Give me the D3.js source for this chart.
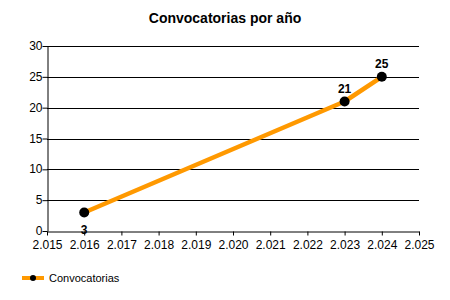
<!DOCTYPE html>
<html>
<head>
<meta charset="utf-8">
<script src="https://cdn.jsdelivr.net/npm/d3@7"></script>
<style>
  body { margin: 0; background: #fff; }
  svg { font-family: "Liberation Sans", Arial, sans-serif; }
</style>
</head>
<body>
<div id="chart"></div>
<script>
// data
var years = [2016, 2023, 2024];
var counts = [3, 21, 25];
var seriesName = "Convocatorias";
var xTicks = [2015, 2016, 2017, 2018, 2019, 2020, 2021, 2022, 2023, 2024, 2025];
var yTicks = [0, 5, 10, 15, 20, 25, 30];

var W = 450, H = 300;
var margin = {top: 46, right: 31, bottom: 69, left: 47},
    width = W - margin.left - margin.right,
    height = H - margin.top - margin.bottom;

var svg = d3.select("#chart").append("svg")
    .attr("width", W)
    .attr("height", H);

// title
svg.append("text")
    .attr("x", 225)
    .attr("y", 23)
    .attr("text-anchor", "middle")
    .style("font-size", "14px")
    .style("font-weight", "bold")
    .text("Convocatorias por año");

var g = svg.append("g")
    .attr("transform", "translate(" + margin.left + "," + margin.top + ")");

var x = d3.scaleLinear().domain([2015, 2025]).range([0, width]);
var y = d3.scaleLinear().domain([0, 30]).range([height, 0]);

// spanish style thousands "2.015"
var fmt = d3.formatLocale({decimal: ",", thousands: ".", grouping: [3], currency: ["", "€"]}).format(",d");

// grid
g.selectAll(".grid")
    .data(yTicks.filter(function(d) { return d > 0; }))
  .enter().append("line")
    .attr("x1", 0)
    .attr("x2", width)
    .attr("y1", function(d) { return Math.round(y(d)) + 0.5; })
    .attr("y2", function(d) { return Math.round(y(d)) + 0.5; })
    .attr("stroke", "#000")
    .attr("stroke-width", 1);

var xAxis = g.append("g")
    .attr("transform", "translate(0," + (height + 0.5) + ")")
    .call(d3.axisBottom(x).tickValues(xTicks).tickFormat(fmt).tickSize(4).tickSizeOuter(0));

var yAxis = g.append("g")
    .attr("transform", "translate(0.5,0)")
    .call(d3.axisLeft(y).tickValues(yTicks).tickSize(5).tickSizeOuter(0));

[xAxis, yAxis].forEach(function(a) {
  a.select(".domain").attr("stroke", "#000");
  a.selectAll("line").attr("stroke", "#000");
  a.selectAll("text")
      .style("font-family", "Liberation Sans, Arial, sans-serif")
      .style("font-size", "12px")
      .attr("fill", "#000");
});
xAxis.selectAll("text").attr("y", 9);
yAxis.selectAll("text").attr("x", -5).attr("dy", "0.3em");

var data = years.map(function(d, i) { return {year: d, value: counts[i]}; });

var line = d3.line()
    .x(function(d) { return x(d.year); })
    .y(function(d) { return y(d.value); });

g.append("path")
    .datum(data)
    .attr("fill", "none")
    .attr("stroke", "#ff9900")
    .attr("stroke-width", 4.5)
    .attr("stroke-linejoin", "round")
    .attr("d", line);

g.selectAll(".dot")
    .data(data)
  .enter().append("circle")
    .attr("cx", function(d) { return x(d.year); })
    .attr("cy", function(d) { return y(d.value); })
    .attr("r", 5)
    .attr("fill", "#000");

// value labels: first one below, rest above
g.selectAll(".lbl")
    .data(data)
  .enter().append("text")
    .attr("x", function(d) { return x(d.year); })
    .attr("y", function(d, i) { return i == 0 ? y(d.value) + 21 : y(d.value) - 9; })
    .attr("text-anchor", "middle")
    .style("font-size", "12px")
    .style("font-weight", "bold")
    .text(function(d) { return d.value; });

// legend
var leg = svg.append("g").attr("transform", "translate(22,278)");
leg.append("line")
    .attr("x1", 0).attr("x2", 22)
    .attr("stroke", "#ff9900").attr("stroke-width", 4);
leg.append("circle").attr("cx", 11).attr("r", 3).attr("fill", "#000");
leg.append("text")
    .attr("x", 27)
    .attr("dy", "0.35em")
    .style("font-size", "11px")
    .text(seriesName);
</script>
</body>
</html>
